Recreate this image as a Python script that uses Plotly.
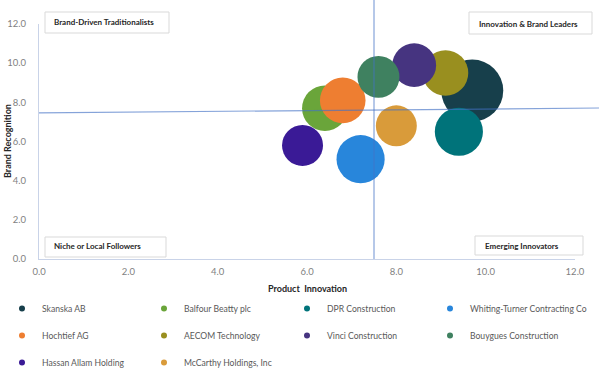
import numpy as np
import plotly.graph_objects as go

companies = ["Skanska AB", "Balfour Beatty plc", "DPR Construction", "Whiting-Turner Contracting Co",
             "Hochtief AG", "AECOM Technology", "Vinci Construction", "Bouygues Construction",
             "Hassan Allam Holding", "McCarthy Holdings, Inc"]
product_innovation = [9.7, 6.4, 9.4, 7.2, 6.8, 9.1, 8.4, 7.6, 5.9, 8.0]
brand_recognition = [8.6, 7.7, 6.5, 5.1, 8.1, 9.5, 9.9, 9.3, 5.8, 6.8]
market_weight = [48, 26, 29, 29, 26, 26, 24, 22, 21, 21]
colors = ["#173F4B", "#6AA53A", "#00737A", "#2886DB", "#EE7E31",
          "#998F1F", "#463480", "#3F8160", "#3A1A96", "#D99B3A"]
x_ticks = [0, 2, 4, 6, 8, 10, 12]
y_ticks = [0, 2, 4, 6, 8, 10, 12]
quadrants = ["Brand-Driven Traditionalists", "Innovation & Brand Leaders",
             "Niche or Local Followers", "Emerging Innovators"]

W, H = 599, 377
L, R, T, B = 39, 575, 24, 259  # plot area in page pixels


def px(xp):
    return (xp - L) / (R - L)


def py(yp):
    return (B - yp) / (B - T)


def cx(xp):
    return xp / W


def cy(yp):
    return 1 - yp / H


fig = go.Figure()
diam = 2 * np.sqrt(20 * np.array(market_weight, dtype=float))
for i, name in enumerate(companies):
    fig.add_trace(go.Scatter(
        x=[product_innovation[i]], y=[brand_recognition[i]], mode="markers",
        marker=dict(size=[diam[i]], sizemode="diameter", color=colors[i], opacity=1,
                    line=dict(width=0)),
        name=name, showlegend=False, hoverinfo="name+x+y"))

# legend: 4 columns, 3 rows (order reads row by row)
n_cols = 4
col_text_x = [43, 185, 328, 471]
row_y0 = 308
legend_ids = ["legend", "legend2", "legend3", "legend4"]
for i, name in enumerate(companies):
    c = i % n_cols
    fig.add_trace(go.Scatter(
        x=[None], y=[None], mode="markers",
        marker=dict(size=6, color=colors[i]),
        name=name, showlegend=True, legend=legend_ids[c], legendgroup=name))

layout_legends = {}
for c, lid in enumerate(legend_ids):
    layout_legends[lid] = dict(
        orientation="v", xref="container", yref="container",
        x=cx(col_text_x[c] - 41), y=cy(row_y0 - 14), xanchor="left", yanchor="top",
        itemwidth=30, tracegroupgap=8, bgcolor="rgba(0,0,0,0)",
        font=dict(family="Lato", size=8.6, color="#595959"))

shapes = []
boxes = [(45, 12, 169, 33), (469, 12, 592, 34), (45, 237, 166, 257), (475, 236, 583, 255)]
for (x0, y0, x1, y1) in boxes:
    shapes.append(dict(type="rect", xref="paper", yref="paper",
                       x0=px(x0), x1=px(x1), y0=py(y1), y1=py(y0),
                       line=dict(color="#D9D9D9", width=1), fillcolor="white", layer="above"))
shapes.append(dict(type="line", xref="paper", yref="y", x0=0, x1=px(599), y0=7.46, y1=7.71,
                   line=dict(color="rgba(68,114,196,0.65)", width=1.2), layer="above"))
shapes.append(dict(type="line", xref="x", yref="paper", x0=7.5, x1=7.5, y0=0, y1=py(0),
                   line=dict(color="rgba(68,114,196,0.65)", width=1.2), layer="above"))

annotations = []
text_pos = [(52, 22), (477, 24), (52, 246), (483, 246)]
for t, (xp, yp) in zip(quadrants, text_pos):
    annotations.append(dict(text="<b>" + t + "</b>", xref="paper", yref="paper",
                            x=px(xp), y=py(yp), xanchor="left", yanchor="middle",
                            showarrow=False, font=dict(family="Lato", size=8, color="#262626")))
annotations.append(dict(text="<b>Product  Innovation</b>", xref="paper", yref="paper",
                        x=px(307), y=py(288), xanchor="center", yanchor="middle", showarrow=False,
                        font=dict(family="Lato", size=9, color="#262626")))
annotations.append(dict(text="<b>Brand Recognition</b>", xref="paper", yref="paper",
                        x=px(7), y=py(141), xanchor="center", yanchor="middle", showarrow=False,
                        textangle=-90, font=dict(family="Lato", size=9, color="#262626")))

fig.update_layout(
    width=W, height=H,
    margin=dict(l=L, r=W - R, t=T, b=H - B, autoexpand=False),
    paper_bgcolor="white", plot_bgcolor="white",
    shapes=shapes, annotations=annotations,
    xaxis=dict(range=[0, 12], tickvals=x_ticks, tickformat=".1f", showgrid=False, zeroline=False,
               showline=True, linecolor="#C9D3E8", linewidth=1, ticks="",
               tickfont=dict(family="Lato", size=9.5, color="#7F7F7F"), ticklabelstandoff=4,
               fixedrange=True),
    yaxis=dict(range=[0, 12], tickvals=y_ticks, tickformat=".1f", showgrid=False, zeroline=False,
               showline=True, linecolor="#C9D3E8", linewidth=1, ticks="",
               tickfont=dict(family="Lato", size=9.5, color="#7F7F7F"), ticklabelstandoff=10,
               fixedrange=True),
    **layout_legends,
)

fig.write_html("out.html", config={"displayModeBar": False},
               post_script="document.body.style.margin='0';")
